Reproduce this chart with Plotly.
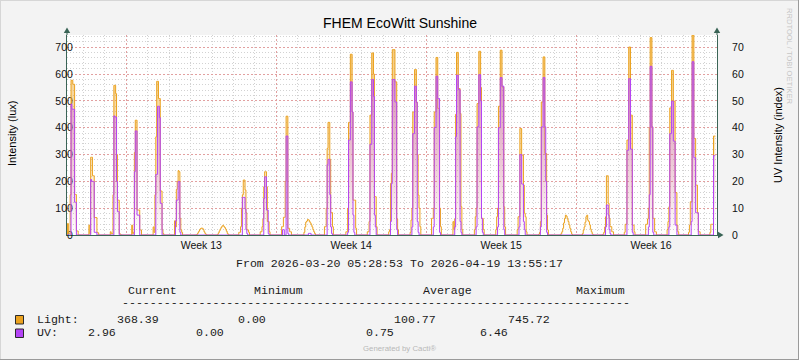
import datetime as dt
import plotly.graph_objects as go

# ---------------- data ----------------
START_DAY = "2026-03-20"
RANGE_START = "2026-03-20 05:28:53"
RANGE_END = "2026-04-19 13:55:17"
FIRST_HOUR = 6  # each daily list starts at 06:00, one value per hour

# Light intensity (lux), hourly values from 06:00 for each day
LIGHT_BY_DAY = [
    [43, 5, 5, 150, 577, 577, 562, 562, 151, 151, 15, 15, 0, 0],        # Mar 20
    [37, 5, 290, 290, 221, 221, 65, 65, 65, 10, 8, 0, 0, 0],            # Mar 21
    [12, 5, 5, 150, 558, 558, 527, 300, 130, 130, 5, 3, 0, 0],          # Mar 22
    [37, 5, 10, 308, 428, 428, 93, 93, 93, 19, 19, 0, 0, 0],            # Mar 23
    [30, 10, 150, 366, 573, 573, 509, 509, 164, 164, 19, 5, 0, 0],      # Mar 24
    [53, 30, 170, 200, 240, 236, 62, 19, 10, 0, 0, 0, 0, 0],            # Mar 25
    [0, 3, 8, 14, 20, 24, 26, 25, 20, 12, 6, 2, 0, 0],                  # Mar 26
    [2, 8, 15, 22, 28, 33, 36, 32, 28, 22, 14, 6, 1, 0],                # Mar 27
    [10, 10, 31, 100, 150, 205, 205, 168, 83, 19, 19, 10, 0, 0],        # Mar 28
    [12, 12, 31, 60, 180, 236, 236, 180, 50, 50, 12, 0, 0, 0],          # Mar 29
    [31, 31, 66, 66, 200, 443, 443, 25, 25, 12, 12, 0, 0, 0],           # Mar 30
    [0, 10, 30, 48, 52, 58, 56, 50, 45, 38, 30, 20, 12, 5],             # Mar 31
    [31, 31, 100, 323, 420, 420, 282, 84, 84, 31, 0, 0, 0, 0],          # Apr 01
    [12, 12, 100, 420, 420, 674, 674, 459, 130, 130, 130, 25, 0, 0],    # Apr 02
    [12, 12, 50, 447, 447, 679, 679, 600, 143, 143, 31, 0, 0, 0],       # Apr 03
    [12, 20, 192, 230, 691, 691, 691, 571, 571, 60, 20, 0, 0, 0],       # Apr 04
    [10, 56, 100, 459, 459, 617, 617, 496, 300, 149, 100, 31, 0, 0],    # Apr 05
    [62, 62, 100, 459, 459, 662, 662, 472, 472, 100, 31, 0, 0, 0],      # Apr 06
    [50, 20, 60, 450, 681, 681, 546, 546, 453, 105, 20, 0, 0, 0],       # Apr 07
    [20, 68, 100, 490, 490, 685, 685, 550, 62, 62, 20, 0, 0, 0],        # Apr 08
    [20, 68, 100, 480, 480, 689, 689, 552, 552, 105, 30, 0, 0, 0],      # Apr 09
    [20, 68, 68, 397, 397, 298, 298, 186, 81, 68, 12, 0, 0, 0],         # Apr 10
    [3, 10, 50, 496, 496, 664, 664, 304, 304, 74, 19, 0, 0, 0],         # Apr 11
    [0, 5, 12, 25, 45, 62, 74, 70, 60, 50, 38, 25, 12, 3],              # Apr 12
    [0, 5, 18, 30, 48, 68, 74, 55, 50, 38, 22, 12, 4, 0],               # Apr 13
    [3, 10, 30, 68, 221, 221, 118, 62, 31, 31, 12, 12, 0, 0],           # Apr 14
    [10, 40, 40, 354, 354, 701, 701, 447, 447, 37, 37, 12, 0, 0],       # Apr 15
    [40, 40, 60, 100, 400, 736, 736, 403, 62, 62, 12, 12, 0, 0],        # Apr 16
    [20, 50, 105, 474, 474, 614, 614, 499, 499, 158, 158, 37, 12, 0],   # Apr 17
    [10, 37, 124, 124, 745.72, 745.72, 360, 360, 186, 186, 83, 12, 12, 0],  # Apr 18
    [10, 40, 40, 40, 369, 369, 368.39],                                 # Apr 19 (ends 12:00)
]

# UV intensity (right axis units), hourly values from 06:00 for each day
UV_BY_DAY = [
    [0, 0, 0, 0, 48.8, 46.9, 46.9, 46.9, 12.2, 12.2, 0, 0, 0, 0],
    [0, 0, 20.7, 20.0, 20.0, 19.9, 1.0, 1.0, 1.0, 0, 0, 0, 0, 0],
    [0, 0, 0, 0, 44.4, 44.0, 44.0, 20.0, 8.7, 8.7, 0, 0, 0, 0],
    [0, 0, 0, 23.6, 38.8, 38.8, 7.4, 7.4, 7.4, 0, 0, 0, 0, 0],
    [0, 0, 0, 22.6, 22.6, 48.0, 48.0, 43.8, 11.8, 11.8, 0, 0, 0, 0],
    [0, 5.2, 13.0, 13.0, 19.9, 19.9, 1.0, 0, 0, 0, 0, 0, 0, 0],
    [0, 0, 0, 0, 0, 0, 0, 0, 0, 0, 0, 0, 0, 0],
    [0, 0, 0, 0, 0, 0, 0, 0, 0, 0, 0, 0, 0, 0],
    [0, 0, 0, 0, 14.0, 14.0, 14.0, 9.7, 2.0, 0.5, 0, 0, 0, 0],
    [0, 0, 0, 0, 13.6, 21.7, 21.7, 9.3, 9.3, 0.5, 0, 0, 0, 0],
    [0, 2.0, 2.0, 0, 0, 36.9, 36.9, 0.5, 0, 0, 0, 0, 0, 0],
    [0, 0, 0, 0, 0, 0, 0.6, 0.6, 0.6, 0, 0, 0, 0, 0],
    [0, 0, 0, 26.2, 28.2, 28.2, 15.0, 3.0, 0.5, 0, 0, 0, 0, 0],
    [0, 0, 1.0, 35.4, 35.4, 57.1, 57.1, 45.9, 7.4, 1.0, 0, 0, 0, 0],
    [0, 0, 0, 33.8, 33.8, 58.0, 58.0, 51.6, 7.4, 3.0, 0, 0, 0, 0],
    [0, 0, 5.0, 19.2, 58.0, 58.0, 58.0, 49.6, 49.6, 2.0, 0, 0, 0, 0],
    [0, 0, 3.0, 37.8, 37.8, 55.5, 55.5, 49.4, 5.0, 1.0, 0, 0, 0, 0],
    [0, 0, 3.0, 40.1, 40.1, 59.2, 59.2, 50.9, 50.9, 1.0, 0, 0, 0, 0],
    [0, 0, 3.0, 36.6, 59.6, 59.6, 54.2, 54.2, 5.0, 1.0, 0, 0, 0, 0],
    [0, 0, 3.0, 40.3, 40.3, 59.8, 59.8, 50.0, 6.2, 1.0, 0, 0, 0, 0],
    [0, 0, 3.0, 40.0, 40.0, 58.7, 58.7, 55.5, 55.5, 2.0, 0, 0, 0, 0],
    [0, 0, 3.0, 30.0, 30.0, 19.0, 19.0, 5.0, 2.0, 0, 0, 0, 0, 0],
    [0, 0, 3.0, 40.3, 40.3, 58.7, 58.7, 40.3, 20.0, 1.0, 0, 0, 0, 0],
    [0, 0, 0, 0, 0, 0, 0, 0, 0, 0, 0, 0, 0, 0],
    [0, 0, 0, 0, 0, 0, 0, 0, 0, 0, 0, 0, 0, 0],
    [0, 0, 0, 3.0, 11.2, 11.2, 7.4, 2.0, 0.5, 0, 0, 0, 0, 0],
    [0, 0, 0, 31.6, 31.6, 58.3, 58.3, 32.0, 32.0, 1.0, 0, 0, 0, 0],
    [0, 0, 0, 3.0, 15.0, 62.9, 62.9, 40.3, 1.0, 0, 0, 0, 0, 0],
    [0, 0, 3.0, 37.8, 37.8, 49.9, 49.9, 35.0, 35.0, 3.7, 3.7, 0, 0, 0],
    [0, 0, 0, 5.0, 64.6, 64.6, 28.8, 28.8, 8.3, 8.3, 8.3, 0, 0, 0],
    [0, 0, 0, 0, 29.6, 29.6, 29.6],
]

LIGHT_MAX = 745.72
UV_AXIS_MAX = 74.572

TITLE = "FHEM EcoWitt Sunshine"
Y_LEFT_TITLE = "Intensity (lux)"
Y_RIGHT_TITLE = "UV Intensity (index)"
LEGEND_HEADERS = ["Current", "Minimum", "Average", "Maximum"]
LEGEND_ROWS = [
    ("Light:", ["368.39", "0.00", "100.77", "745.72"]),
    ("UV:", ["2.96", "0.00", "0.75", "6.46"]),
]

# ---------------- styles ----------------
ORANGE = "#EBA21F"
PURPLE = "#B444F6"
AXIS = "#3A6456"
MGRID = "rgb(226,160,160)"
GRID = "#d2d2d2"
BG = "#f3f3f3"
MONO = "Liberation Mono, Courier New, monospace"
SANS = "Liberation Sans, Arial, sans-serif"


def build_series(days):
    xs, ys = [], []
    d0 = dt.datetime.strptime(START_DAY, "%Y-%m-%d")
    last = len(days) - 1
    for d, vals in enumerate(days):
        day = d0 + dt.timedelta(days=d)
        hmax = 24 if d < last else FIRST_HOUR + len(vals)
        for h in range(hmax):
            i = h - FIRST_HOUR
            v = vals[i] if 0 <= i < len(vals) else 0
            xs.append((day + dt.timedelta(hours=h)).strftime("%Y-%m-%d %H:%M:%S"))
            ys.append(v)
    return xs, ys


lx, ly = build_series(LIGHT_BY_DAY)
ux, uy = build_series(UV_BY_DAY)

fig = go.Figure()
fig.add_trace(go.Scatter(
    x=lx, y=ly, mode="lines", line=dict(color=ORANGE, width=1, shape="hv"),
    fill="tozeroy",
    fillgradient=dict(type="vertical", start=0, stop=LIGHT_MAX,
                      colorscale=[[0, "rgba(235,162,31,0)"], [1, "rgba(235,162,31,0.6)"]]),
    yaxis="y", hoverinfo="skip", name="Light"))
fig.add_trace(go.Scatter(
    x=ux, y=uy, mode="lines", line=dict(color=PURPLE, width=1, shape="hv"),
    fill="tozeroy",
    fillgradient=dict(type="vertical", start=0, stop=UV_AXIS_MAX,
                      colorscale=[[0, "rgba(180,68,246,0)"], [1, "rgba(180,68,246,0.55)"]]),
    yaxis="y2", hoverinfo="skip", name="UV"))

# plot-area pixel geometry
PL, PR, PT, PB = 67, 717, 35, 235
W, H = 799, 360


def px(x):
    return (x - PL) / (PR - PL)


def py(y):
    return (PB - y) / (PB - PT)


tickfont = dict(family=SANS, size=10.5, color="#111")

fig.update_layout(
    width=W, height=H,
    margin=dict(l=PL, r=W - PR, t=PT, b=H - PB, pad=0),
    paper_bgcolor=BG, plot_bgcolor="white",
    showlegend=False, hovermode=False,
    xaxis=dict(
        type="date", range=[RANGE_START, RANGE_END],
        tickmode="linear", tick0="2026-03-23", dtick=7 * 86400000,
        ticklabelmode="period", tickformat="Week %V",
        showgrid=True, gridcolor=MGRID, griddash="2px,2px", gridwidth=1,
        minor=dict(tick0="2026-03-20", dtick=86400000, showgrid=True,
                   gridcolor=GRID, griddash="1px,2px", gridwidth=1),
        showline=True, linecolor=AXIS, linewidth=1, ticks="",
        zeroline=False, tickfont=tickfont, layer="below traces", fixedrange=True,
    ),
    yaxis=dict(
        range=[0, LIGHT_MAX], tick0=0, dtick=100,
        showgrid=True, gridcolor=MGRID, griddash="2px,2px", gridwidth=1,
        minor=dict(dtick=20, showgrid=True, gridcolor=GRID, griddash="1px,2px", gridwidth=1),
        showline=True, linecolor=AXIS, linewidth=1, ticks="",
        zeroline=False, tickfont=tickfont, layer="below traces",
        ticklabelstandoff=-9, fixedrange=True,
    ),
    yaxis2=dict(
        overlaying="y", side="right", range=[0, UV_AXIS_MAX], tick0=0, dtick=10,
        showgrid=False, showline=True, linecolor=AXIS, linewidth=1, ticks="",
        zeroline=False, tickfont=tickfont, layer="below traces",
        ticklabelstandoff=12, fixedrange=True,
    ),
)

shapes = []
# axis arrows
for ax_x in (PL, PR):
    shapes.append(dict(type="line", xref="paper", yref="paper",
                       x0=px(ax_x), x1=px(ax_x), y0=py(PT), y1=py(32),
                       line=dict(color=AXIS, width=1)))
    shapes.append(dict(type="path", xref="paper", yref="paper",
                       path=f"M {px(ax_x)},{py(27.5)} L {px(ax_x-3.2)},{py(33)} L {px(ax_x+3.2)},{py(33)} Z",
                       fillcolor=AXIS, line=dict(width=0)))
shapes.append(dict(type="line", xref="paper", yref="paper",
                   x0=px(PR), x1=px(719), y0=py(PB), y1=py(PB),
                   line=dict(color=AXIS, width=1)))
shapes.append(dict(type="path", xref="paper", yref="paper",
                   path=f"M {px(723.5)},{py(PB)} L {px(718)},{py(PB-3.2)} L {px(718)},{py(PB+3.2)} Z",
                   fillcolor=AXIS, line=dict(width=0)))
# legend colour boxes
for i, col in enumerate((ORANGE, PURPLE)):
    y0 = 315.5 + i * 13.5
    shapes.append(dict(type="rect", xref="paper", yref="paper",
                       x0=px(15.5), x1=px(23.5), y0=py(y0), y1=py(y0 + 8.5),
                       fillcolor=col, line=dict(color="#2a2a2a", width=1)))
# image frame
shapes.append(dict(type="line", xref="paper", yref="paper", x0=px(0), x1=px(W),
                   y0=py(0.5), y1=py(0.5), line=dict(color="#d6d6d6", width=1)))
shapes.append(dict(type="line", xref="paper", yref="paper", x0=px(0.5), x1=px(0.5),
                   y0=py(0), y1=py(H), line=dict(color="#d6d6d6", width=1)))
shapes.append(dict(type="line", xref="paper", yref="paper", x0=px(0), x1=px(W),
                   y0=py(H - 0.5), y1=py(H - 0.5), line=dict(color="#9a9a9a", width=1)))
shapes.append(dict(type="line", xref="paper", yref="paper", x0=px(W - 0.5), x1=px(W - 0.5),
                   y0=py(0), y1=py(H), line=dict(color="#9a9a9a", width=1)))
fig.update_layout(shapes=shapes)

ann = []


def text(x, y, s, size=11.6, family=MONO, color="#1a1a1a", xanchor="left", angle=0):
    ann.append(dict(x=px(x), y=py(y), xref="paper", yref="paper", text=s,
                    showarrow=False, xanchor=xanchor, yanchor="middle",
                    textangle=angle, borderpad=0, borderwidth=0,
                    font=dict(family=family, size=size, color=color)))


text(400, 22.5, TITLE, size=14, family=SANS, color="#000", xanchor="center")
text(12, 134, Y_LEFT_TITLE, size=11, family=SANS, color="#000", xanchor="center", angle=-90)
text(778, 135, Y_RIGHT_TITLE, size=11, family=SANS, color="#000", xanchor="center", angle=-90)
text(790, 56, "RRDTOOL / TOBI OETIKER", size=7.6, family=SANS, color="#c6c6c6",
     xanchor="center", angle=90)
text(399.5, 263, f"From {RANGE_START} To {RANGE_END}", xanchor="center")

for hx, h in zip((128, 254, 422.5, 576), LEGEND_HEADERS):
    text(hx, 290.5, h)
text(121.5, 302, "-" * 73)
row_x = [
    (37, [116.5, 237.5, 394, 508]),
    (37, [88, 196, 366, 480]),
]
for (label, vals), (lxp, vxs), yy in zip(LEGEND_ROWS, row_x, (319, 332.5)):
    text(lxp, yy, label)
    for vx, v in zip(vxs, vals):
        text(vx, yy, v)
text(399, 349, "Generated by Cacti®", size=7.8, family=SANS, color="#b8b8b8", xanchor="center")

fig.update_layout(annotations=ann)
fig.write_html("out.html", config={"displayModeBar": False, "staticPlot": True},
               post_script="document.body.style.margin='0px';")
